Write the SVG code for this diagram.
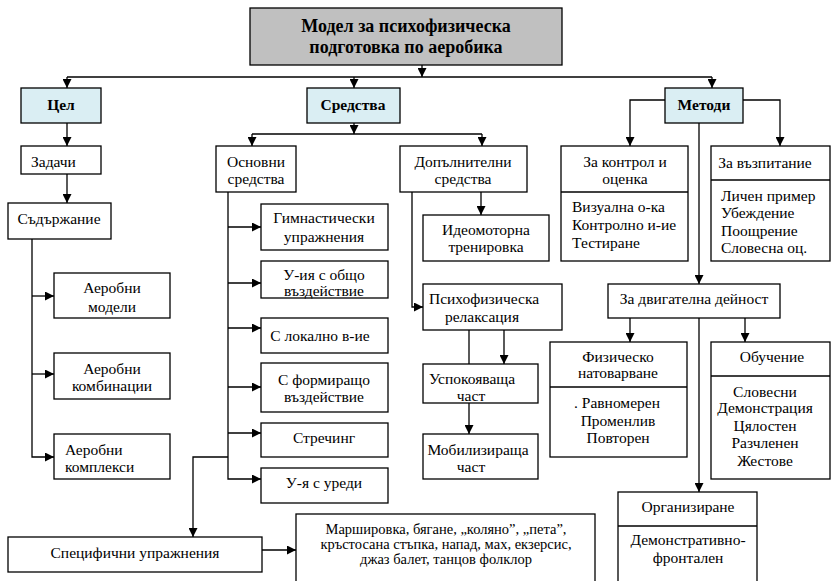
<svg xmlns="http://www.w3.org/2000/svg" width="834" height="581" viewBox="0 0 834 581" font-family="Liberation Serif, Times New Roman, Tinos, serif">
<style>
.b{fill:#fff;stroke:#000;stroke-width:1.3}
.blue{fill:#daeef3;stroke:#000;stroke-width:1.3}
.gray{fill:#c0c0c0;stroke:#000;stroke-width:1.3}
.ln{fill:none;stroke:#000;stroke-width:1.3}
text{font-family:'Liberation Serif','Times New Roman',Tinos,serif;font-size:15.5px;fill:#000}
.c{text-anchor:middle}
.bd{font-weight:bold}
.t{font-size:18px}
.sm{font-size:14.5px}
</style>
<defs>
<marker id="ah" viewBox="0 0 10 10" refX="10" refY="5" markerWidth="9" markerHeight="9" markerUnits="userSpaceOnUse" orient="auto">
<path d="M0,0 L10,5 L0,10 z" fill="#000"/>
</marker>
</defs>

<g id="connectors">
<path class="ln" d="M422,65 V77" marker-end="url(#ah)"/>
<path class="ln" d="M67,77 H712"/>
<path class="ln" d="M67,77 V88" marker-end="url(#ah)"/>
<path class="ln" d="M354,77 V88" marker-end="url(#ah)"/>
<path class="ln" d="M712,77 V88" marker-end="url(#ah)"/>
<path class="ln" d="M67,123 V146" marker-end="url(#ah)"/>
<path class="ln" d="M67,174 V203" marker-end="url(#ah)"/>
<path class="ln" d="M32,239 V457 H54" marker-end="url(#ah)"/>
<path class="ln" d="M32,296 H54" marker-end="url(#ah)"/>
<path class="ln" d="M32,374 H54" marker-end="url(#ah)"/>
<path class="ln" d="M354,123 V134" marker-end="url(#ah)"/>
<path class="ln" d="M252,134 H482"/>
<path class="ln" d="M252,134 V146" marker-end="url(#ah)"/>
<path class="ln" d="M482,134 V146" marker-end="url(#ah)"/>
<path class="ln" d="M228,192 V479 H261" marker-end="url(#ah)"/>
<path class="ln" d="M228,227 H261" marker-end="url(#ah)"/>
<path class="ln" d="M228,283 H261" marker-end="url(#ah)"/>
<path class="ln" d="M228,328 H261" marker-end="url(#ah)"/>
<path class="ln" d="M228,387 H261" marker-end="url(#ah)"/>
<path class="ln" d="M228,433 H261" marker-end="url(#ah)"/>
<path class="ln" d="M228,457 H193 V537" marker-end="url(#ah)"/>
<path class="ln" d="M262,550 H296" marker-end="url(#ah)"/>
<path class="ln" d="M412,192 V307 H423" marker-end="url(#ah)"/>
<path class="ln" d="M481,192 V215" marker-end="url(#ah)"/>
<path class="ln" d="M469,330 V364"/>
<path class="ln" d="M504,330 V364" marker-end="url(#ah)"/>
<path class="ln" d="M469,403 V434" marker-end="url(#ah)"/>
<path class="ln" d="M665,100 H630 V146" marker-end="url(#ah)"/>
<path class="ln" d="M743,100 H780 V146" marker-end="url(#ah)"/>
<path class="ln" d="M699,123 V284" marker-end="url(#ah)"/>
<path class="ln" d="M630,318 V342" marker-end="url(#ah)"/>
<path class="ln" d="M745,318 V342" marker-end="url(#ah)"/>
<path class="ln" d="M699,318 V492" marker-end="url(#ah)"/>
</g>

<g id="title">
<rect class="gray" x="250" y="8" width="312" height="57"/>
<text class="c bd t" x="406" y="32">Модел за психофизическа</text>
<text class="c bd t" x="406" y="53">подготовка по аеробика</text>
</g>

<g id="cel">
<rect class="blue" x="21" y="88" width="80" height="35"/>
<text class="c bd" x="61" y="110">Цел</text>
</g>
<g id="sredstva">
<rect class="blue" x="307" y="88" width="93" height="35"/>
<text class="c bd" x="353" y="110">Средства</text>
</g>
<g id="metodi">
<rect class="blue" x="665" y="88" width="78" height="35"/>
<text class="c bd" x="704" y="110">Методи</text>
</g>

<g id="zadachi">
<rect class="b" x="21" y="146" width="80" height="28"/>
<text x="31" y="167">Задачи</text>
</g>
<g id="sadarzhanie">
<rect class="b" x="8" y="203" width="103" height="36"/>
<text class="c" x="59" y="224">Съдържание</text>
</g>
<g id="aer-modeli">
<rect class="b" x="54" y="273" width="116" height="45"/>
<text class="c" x="112" y="293">Аеробни</text>
<text class="c" x="112" y="312">модели</text>
</g>
<g id="aer-komb">
<rect class="b" x="54" y="353" width="116" height="46"/>
<text class="c" x="112" y="374">Аеробни</text>
<text class="c" x="112" y="391">комбинации</text>
</g>
<g id="aer-kompl">
<rect class="b" x="54" y="434" width="116" height="45"/>
<text x="65" y="455">Аеробни</text>
<text x="65" y="472">комплекси</text>
</g>

<g id="osnovni">
<rect class="b" x="216" y="146" width="80" height="46"/>
<text class="c" x="256" y="167">Основни</text>
<text class="c" x="256" y="184">средства</text>
</g>
<g id="dopalnitelni">
<rect class="b" x="400" y="146" width="127" height="46"/>
<text class="c" x="463" y="167">Допълнителни</text>
<text class="c" x="463" y="184">средства</text>
</g>

<g id="gimn">
<rect class="b" x="261" y="204" width="127" height="46"/>
<text class="c" x="324" y="223">Гимнастически</text>
<text class="c" x="324" y="242">упражнения</text>
</g>
<g id="obshto">
<rect class="b" x="261" y="261" width="127" height="37"/>
<text class="c" x="324" y="280">У-ия с общо</text>
<text class="c" x="324" y="296">въздействие</text>
</g>
<g id="lokalno">
<rect class="b" x="261" y="318" width="127" height="35"/>
<text class="c" x="320" y="341">С локално в-ие</text>
</g>
<g id="formirashto">
<rect class="b" x="261" y="363" width="127" height="49"/>
<text class="c" x="324" y="385">С формиращо</text>
<text class="c" x="324" y="402">въздействие</text>
</g>
<g id="strech">
<rect class="b" x="261" y="423" width="127" height="34"/>
<text class="c" x="324" y="443">Стречинг</text>
</g>
<g id="uredi">
<rect class="b" x="261" y="468" width="127" height="35"/>
<text class="c" x="324" y="488">У-я с уреди</text>
</g>

<g id="specifichni">
<rect class="b" x="8" y="537" width="254" height="35"/>
<text class="c" x="135" y="558">Специфични упражнения</text>
</g>
<g id="marshirovka">
<rect class="b" x="296" y="514" width="299" height="75"/>
<text class="c sm" x="446" y="534">Маршировка, бягане, „коляно”, „пета”,</text>
<text class="c sm" x="446" y="549">кръстосана стъпка, напад, мах, екзерсис,</text>
<text class="c sm" x="446" y="564">джаз балет, танцов фолклор</text>
</g>

<g id="ideomotorna">
<rect class="b" x="423" y="215" width="126" height="46"/>
<text class="c" x="486" y="235">Идеомоторна</text>
<text class="c" x="486" y="252">тренировка</text>
</g>
<g id="psihofiz">
<rect class="b" x="423" y="284" width="139" height="46"/>
<text x="429" y="304">Психофизическа</text>
<text class="c" x="482" y="322">релаксация</text>
</g>
<g id="uspokoyavashta">
<rect class="b" x="423" y="364" width="115" height="39"/>
<text x="429" y="384">Успокояваща</text>
<text class="c" x="471" y="401">част</text>
</g>
<g id="mobilizirashta">
<rect class="b" x="423" y="434" width="115" height="45"/>
<text class="c" x="478" y="455">Мобилизираща</text>
<text class="c" x="471" y="472">част</text>
</g>

<g id="kontrol">
<rect class="b" x="561" y="146" width="127" height="115"/>
<path class="ln" d="M561,192 H688"/>
<text class="c" x="625" y="167">За контрол и</text>
<text class="c" x="625" y="184">оценка</text>
<text x="572" y="212">Визуална о-ка</text>
<text x="572" y="230">Контролно и-ие</text>
<text x="572" y="248">Тестиране</text>
</g>
<g id="vazpitanie">
<rect class="b" x="711" y="146" width="119" height="115"/>
<path class="ln" d="M711,180 H830"/>
<text class="c" x="765" y="168">За възпитание</text>
<text x="721" y="201">Личен пример</text>
<text x="721" y="218">Убеждение</text>
<text x="721" y="236">Поощрение</text>
<text x="721" y="253">Словесна оц.</text>
</g>

<g id="dvigatelna">
<rect class="b" x="608" y="284" width="172" height="34"/>
<text class="c" x="694" y="304">За двигателна дейност</text>
</g>
<g id="fizichesko">
<rect class="b" x="550" y="342" width="137" height="115"/>
<path class="ln" d="M550,387 H687"/>
<text class="c" x="618" y="362">Физическо</text>
<text class="c" x="618" y="378">натоварване</text>
<text class="c" x="617" y="408">. Равномерен</text>
<text class="c" x="618" y="426">Променлив</text>
<text class="c" x="618" y="443">Повторен</text>
</g>
<g id="obuchenie">
<rect class="b" x="711" y="342" width="119" height="137"/>
<path class="ln" d="M711,376 H830"/>
<text class="c" x="772" y="362">Обучение</text>
<text class="c" x="765" y="397">Словесни</text>
<text class="c" x="765" y="413">Демонстрация</text>
<text class="c" x="765" y="431">Цялостен</text>
<text class="c" x="765" y="448">Разчленен</text>
<text class="c" x="765" y="466">Жестове</text>
</g>
<g id="organizirane">
<rect class="b" x="618" y="492" width="139" height="95"/>
<path class="ln" d="M618,526 H757"/>
<text class="c" x="688" y="512">Организиране</text>
<text class="c" x="688" y="545">Демонстративно-</text>
<text class="c" x="688" y="563">фронтален</text>
</g>
</svg>
